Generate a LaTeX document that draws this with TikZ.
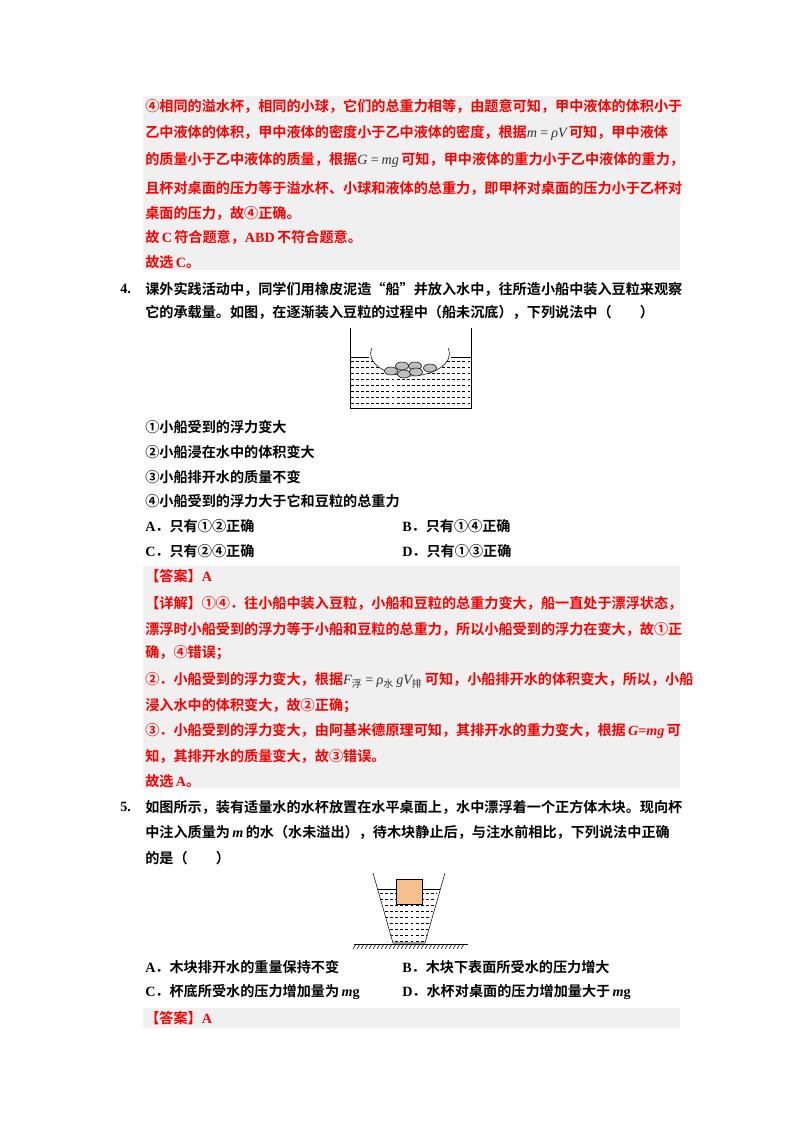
\documentclass[tikz,border=0pt]{standalone}
\usepackage{fontspec}
\setmainfont{Liberation Serif}
\newfontfamily\zh{Noto Sans CJK SC}[BoldFont={* Bold}]
\newcommand\lt[1]{{\rmfamily\bfseries #1}}
\newcommand\fx[1]{\textcolor{black!80}{\rmfamily\mdseries\itshape #1}}
\definecolor{ansred}{HTML}{FF0000}
\definecolor{ansbg}{HTML}{F0F0F0}
\definecolor{blockc}{HTML}{F5C08E}
\begin{document}
\begin{tikzpicture}[x=0.75pt,y=-0.75pt,
  tl/.style={anchor=west,inner sep=0,font=\fontsize{10.6}{12}\zh\bfseries},
  rl/.style={tl,text=ansred},
  wl/.style={dash pattern=on 2.2pt off 1.6pt,line width=0.4pt}]
\useasboundingbox (0,0) rectangle (800,1132);
% gray blocks
\fill[ansbg] (143,96) rectangle (680,270);
\fill[ansbg] (143,566) rectangle (680,788);
\fill[ansbg] (143,1008) rectangle (680,1028);
% block 1
\node[rl] (a1) at (145,106) {④相同的溢水杯，相同的小球，它们的总重力相等，由题意可知，甲中液体的体积小于};
\node[rl] (a2) at (145,133) {乙中液体的体积，甲中液体的密度小于乙中液体的密度，根据\fx{m\,=\,ρV}\,可知，甲中液体};
\node[rl] (a3) at (145,160) {的质量小于乙中液体的质量，根据\fx{G\,=\,mg}\,可知，甲中液体的重力小于乙中液体的重力，};
\node[rl] (a4) at (145,188) {且杯对桌面的压力等于溢水杯、小球和液体的总重力，即甲杯对桌面的压力小于乙杯对};
\node[rl] (a5) at (145,213) {桌面的压力，故④正确。};
\node[rl] (a6) at (145,237) {故\,\lt{C}\,符合题意，\lt{ABD}\,不符合题意。};
\node[rl] (a7) at (145,262) {故选\,\lt{C}。};
% Q4
\node[tl] (q4n) at (120,289) {\lt{4.}};
\node[tl] (q4a) at (145,289) {课外实践活动中，同学们用橡皮泥造“船”并放入水中，往所造小船中装入豆粒来观察};
\node[tl] (q4b) at (145,312) {它的承载量。如图，在逐渐装入豆粒的过程中（船未沉底），下列说法中（\qquad）};
% boat figure
\begin{scope}
\clip (351,358) rectangle (470,407);
\foreach \yy in {361,367,...,406} \draw[wl] (351,\yy) -- (470,\yy);
\end{scope}
\fill[white] (372,348) .. controls (365,362) and (385,376) .. (410,376) .. controls (435,376) and (455,362) .. (448,348) -- cycle;
\draw (350,328) -- (350,408) -- (471,408) -- (471,328);
\draw (350,357) -- (369,357) (451,357) -- (471,357);
\draw (372,348) .. controls (365,362) and (385,376) .. (410,376) .. controls (435,376) and (455,362) .. (448,348);
\foreach \px/\py in {391/371,402/366,415/366,430/368,404/374,416/372}
  \draw[fill=gray!50] (\px,\py) ellipse[x radius=6.5,y radius=4];
\node[tl] (o1) at (145,427) {①小船受到的浮力变大};
\node[tl] (o2) at (145,452) {②小船浸在水中的体积变大};
\node[tl] (o3) at (145,477) {③小船排开水的质量不变};
\node[tl] (o4) at (145,501) {④小船受到的浮力大于它和豆粒的总重力};
\node[tl] (oA) at (145,526) {\lt{A}．只有①②正确};
\node[tl] (oB) at (402,526) {\lt{B}．只有①④正确};
\node[tl] (oC) at (145,551) {\lt{C}．只有②④正确};
\node[tl] (oD) at (402,551) {\lt{D}．只有①③正确};
\node[rl] (b1) at (145,576) {【答案】\lt{A}};
\node[rl] (b2) at (145,603) {【详解】①④．往小船中装入豆粒，小船和豆粒的总重力变大，船一直处于漂浮状态，};
\node[rl] (b3) at (145,629) {漂浮时小船受到的浮力等于小船和豆粒的总重力，所以小船受到的浮力在变大，故①正};
\node[rl] (b4) at (145,653) {确，④错误；};
\node[rl] (b5) at (145,680) {②．小船受到的浮力变大，根据\fx{F\textsubscript{\normalfont\zh 浮}\,=\,ρ\textsubscript{\normalfont\zh 水}\,gV\textsubscript{\normalfont\zh 排}}\,可知，小船排开水的体积变大，所以，小船};
\node[rl] (b6) at (145,706) {浸入水中的体积变大，故②正确；};
\node[rl] (b7) at (145,731) {③．小船受到的浮力变大，由阿基米德原理可知，其排开水的重力变大，根据\,\lt{\textit{G}=\textit{mg}}\,可};
\node[rl] (b8) at (145,756) {知，其排开水的质量变大，故③错误。};
\node[rl] (b9) at (145,781) {故选\,\lt{A}。};
% Q5
\node[tl] (q5n) at (120,807) {\lt{5.}};
\node[tl] (q5a) at (145,807) {如图所示，装有适量水的水杯放置在水平桌面上，水中漂浮着一个正方体木块。现向杯};
\node[tl] (q5b) at (145,832) {中注入质量为\,\lt{\textit{m}}\,的水（水未溢出），待木块静止后，与注水前相比，下列说法中正确};
\node[tl] (q5c) at (145,858) {的是（\qquad）};
% cup figure
\begin{scope}
\clip (378,889) -- (438,889) -- (425,943) -- (393,943) -- cycle;
\foreach \yy in {893,899,...,943} \draw[wl] (370,\yy) -- (450,\yy);
\end{scope}
\draw (373,873) -- (393,943) -- (425,943) -- (445,873);
\draw (378,889) -- (440,889);
\draw[fill=blockc] (396,879) rectangle (422,904);
\draw (354,944) -- (468,944);
\foreach \hx in {356,360,...,466} \draw[line width=0.4pt] (\hx,944) -- (\hx-3,949);
\node[tl] (pA) at (145,967) {\lt{A}．木块排开水的重量保持不变};
\node[tl] (pB) at (402,967) {\lt{B}．木块下表面所受水的压力增大};
\node[tl] (pC) at (145,992) {\lt{C}．杯底所受水的压力增加量为\,\lt{\textit{m}g}};
\node[tl] (pD) at (402,992) {\lt{D}．水杯对桌面的压力增加量大于\,\lt{\textit{m}g}};
\node[rl] (c1) at (145,1018) {【答案】\lt{A}};
\end{tikzpicture}
\end{document}
